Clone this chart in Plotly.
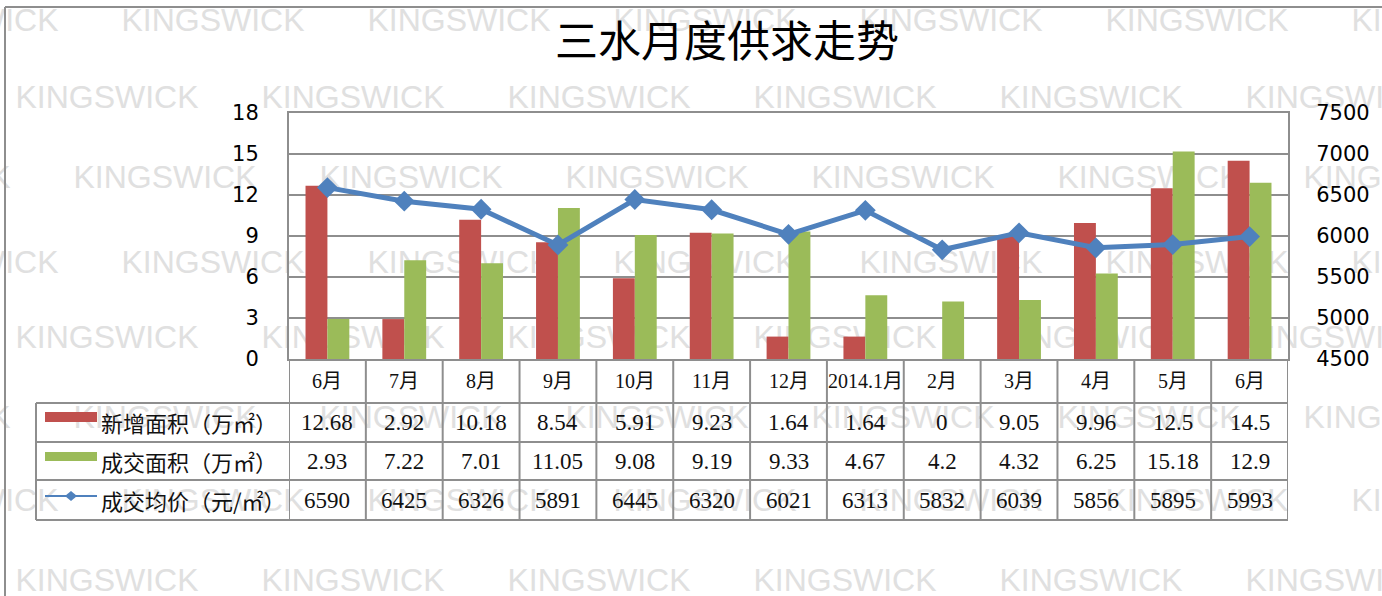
import plotly.graph_objects as go

# ---------------- data ----------------
months = ["6月", "7月", "8月", "9月", "10月", "11月", "12月", "2014.1月",
          "2月", "3月", "4月", "5月", "6月"]
new_area = [12.68, 2.92, 10.18, 8.54, 5.91, 9.23, 1.64, 1.64, 0, 9.05, 9.96, 12.5, 14.5]
deal_area = [2.93, 7.22, 7.01, 11.05, 9.08, 9.19, 9.33, 4.67, 4.2, 4.32, 6.25, 15.18, 12.9]
avg_price = [6590, 6425, 6326, 5891, 6445, 6320, 6021, 6313, 5832, 6039, 5856, 5895, 5993]
series_names = ["新增面积（万㎡）", "成交面积（万㎡）", "成交均价（元/㎡）"]
left_ticks = [0, 3, 6, 9, 12, 15, 18]
right_ticks = [4500, 5000, 5500, 6000, 6500, 7000, 7500]
title_text = "三水月度供求走势"
watermark = "KINGSWICK"

RED = "#C0504D"
GREEN = "#9BBB59"
BLUE = "#4F81BD"
GRID = "#8e8e8e"

W, H = 1382, 596
PL, PR, PT, PB = 289, 1288, 113, 359  # plot area in pixels


def xp(px):
    return (px - PL) / (PR - PL)


def yp(py):
    return (PB - py) / (PB - PT)


idx = list(range(len(months)))

fig = go.Figure()
fig.add_trace(go.Bar(x=idx, y=new_area, name=series_names[0], marker_color=RED,
                     marker_line_width=0))
fig.add_trace(go.Bar(x=idx, y=deal_area, name=series_names[1], marker_color=GREEN,
                     marker_line_width=0))
fig.add_trace(go.Scatter(x=idx, y=avg_price, name=series_names[2], yaxis="y2",
                         mode="lines+markers",
                         line=dict(color=BLUE, width=5),
                         marker=dict(symbol="diamond", size=16, color=BLUE)))

shapes = []
annotations = []

# watermark rows (drawn below everything)
wm_rows = [(17, 118), (94, 12), (174, 70), (259, 118), (334, 12), (414, 70),
           (497, 118), (577, 12)]
for cy, start in wm_rows:
    sx = start - 246 * 2
    while sx < W + 50:
        shapes.append(dict(type="rect", xref="paper", yref="paper", layer="below",
                           x0=xp(sx), x1=xp(sx + 190), y0=yp(cy + 15), y1=yp(cy - 15),
                           line=dict(width=0), fillcolor="rgba(0,0,0,0)",
                           label=dict(text=watermark, textposition="middle center",
                                      font=dict(family="Liberation Sans", size=32,
                                                color="#e0e0e0"))))
        sx += 246

# outer border (left and top)
shapes.append(dict(type="line", xref="paper", yref="paper", x0=xp(5), x1=xp(5),
                   y0=yp(7), y1=yp(H + 10), line=dict(color=GRID, width=2)))
shapes.append(dict(type="line", xref="paper", yref="paper", x0=xp(5), x1=xp(W + 10),
                   y0=yp(7), y1=yp(7), line=dict(color=GRID, width=2)))

# data table grid
row_lines = [403, 442, 480, 520]
for ry in row_lines:
    shapes.append(dict(type="line", xref="paper", yref="paper", x0=xp(36), x1=1,
                       y0=yp(ry), y1=yp(ry), line=dict(color=GRID, width=2)))
for i in range(len(months) + 1):
    shapes.append(dict(type="line", xref="x", yref="paper", x0=i - 0.5, x1=i - 0.5,
                       y0=0, y1=yp(520), line=dict(color=GRID, width=2)))
shapes.append(dict(type="line", xref="paper", yref="paper", x0=xp(36), x1=xp(36),
                   y0=yp(403), y1=yp(520), line=dict(color=GRID, width=2)))

# legend keys in table
shapes.append(dict(type="rect", xref="paper", yref="paper", x0=xp(45), x1=xp(97),
                   y0=yp(422), y1=yp(412), line=dict(width=0), fillcolor=RED))
shapes.append(dict(type="rect", xref="paper", yref="paper", x0=xp(45), x1=xp(97),
                   y0=yp(461), y1=yp(452), line=dict(width=0), fillcolor=GREEN))
shapes.append(dict(type="line", xref="paper", yref="paper", x0=xp(45), x1=xp(97),
                   y0=yp(496), y1=yp(496), line=dict(color=BLUE, width=2)))
dx, dy, cx, cyk = 6, 5, 71, 496
shapes.append(dict(type="path", xref="paper", yref="paper",
                   path=(f"M {xp(cx - dx)} {yp(cyk)} L {xp(cx)} {yp(cyk - dy)} "
                         f"L {xp(cx + dx)} {yp(cyk)} L {xp(cx)} {yp(cyk + dy)} Z"),
                   line=dict(width=0), fillcolor=BLUE))

TABLE_FONT = dict(family="Liberation Serif, Noto Sans CJK SC", size=23, color="#111111")

# month header labels
for i, m in enumerate(months):
    annotations.append(dict(x=i, y=yp(381), xref="x", yref="paper", text=m,
                            showarrow=False, xanchor="center", yanchor="middle",
                            font=dict(family="Liberation Serif, Noto Sans CJK SC",
                                      size=20, color="#111111")))

# row labels and values
rows = [new_area, deal_area, avg_price]
row_centers = [422, 461, 500]
for name, vals, ry in zip(series_names, rows, row_centers):
    annotations.append(dict(x=xp(99), y=yp(ry), xref="paper", yref="paper", text=name,
                            showarrow=False, xanchor="left", yanchor="middle",
                            font=dict(family="Noto Sans CJK SC", size=22,
                                      color="#111111")))
    for i, v in enumerate(vals):
        annotations.append(dict(x=i, y=yp(ry), xref="x", yref="paper",
                                text=f"{v:g}", showarrow=False, xanchor="center",
                                yanchor="middle", font=TABLE_FONT))

fig.update_layout(
    width=W, height=H,
    margin=dict(l=PL, r=W - PR, t=PT, b=H - PB, pad=0),
    paper_bgcolor="white",
    plot_bgcolor="rgba(0,0,0,0)",
    showlegend=False,
    barmode="group", bargap=0.43, bargroupgap=0,
    title=dict(text=title_text, xref="container", yref="container",
               x=727 / W, y=1 - 42 / H, xanchor="center", yanchor="middle",
               font=dict(family="Noto Sans CJK SC", size=43, color="#000000")),
    xaxis=dict(range=[-0.5, len(months) - 0.5], showticklabels=False, showgrid=False,
               zeroline=False, showline=True, mirror=True, linecolor=GRID, linewidth=2,
               ticks=""),
    yaxis=dict(range=[0, 18], tickvals=left_ticks, showgrid=True, gridcolor=GRID,
               gridwidth=2, zeroline=False, showline=True, linecolor=GRID, linewidth=2,
               ticks="outside", ticklen=24, tickcolor="rgba(0,0,0,0)",
               tickfont=dict(family="DejaVu Sans", size=21, color="#000000")),
    yaxis2=dict(range=[4500, 7500], tickvals=right_ticks, overlaying="y", side="right",
                showgrid=False, zeroline=False, showline=True, linecolor=GRID,
                linewidth=2, ticks="outside", ticklen=22, tickcolor="rgba(0,0,0,0)",
                tickfont=dict(family="DejaVu Sans", size=21, color="#000000")),
    shapes=shapes,
    annotations=annotations,
)

fig.write_html("out.html", config={"displayModeBar": False},
               post_script="document.body.style.margin='0';")
